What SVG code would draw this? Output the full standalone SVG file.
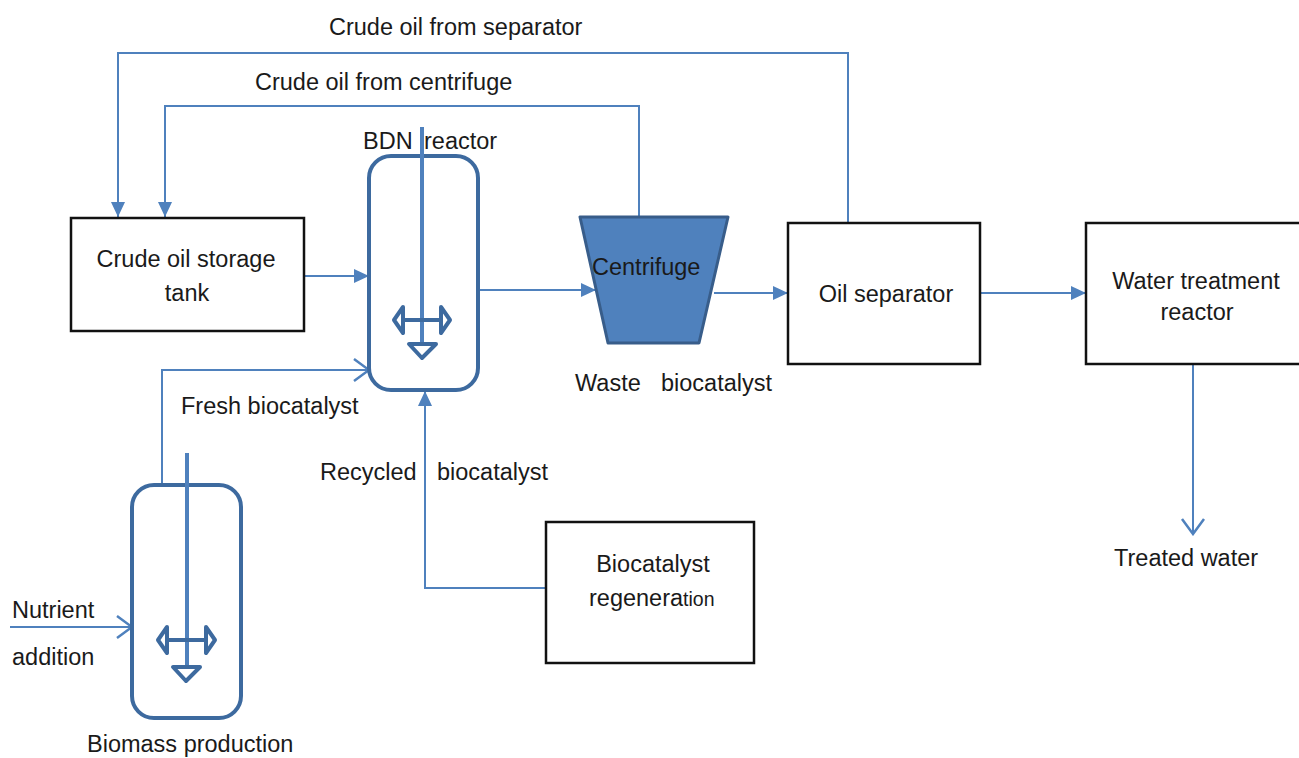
<svg xmlns="http://www.w3.org/2000/svg" width="1299" height="758" viewBox="0 0 1299 758">
<style>
text{font-family:"Liberation Sans",Arial,sans-serif;font-size:23.5px;fill:#1a1a1a}
.box{fill:#fff;stroke:#111;stroke-width:2.5}
.vessel{fill:#fff;stroke:#3d6a9f;stroke-width:4}
.shaft{stroke:#4f81bd;stroke-width:4;fill:none}
.agit{fill:none;stroke:#3d6a9f;stroke-width:4;stroke-linejoin:round}
.c{fill:none;stroke:#4f81bd;stroke-width:2}
</style>
<defs>
<marker id="fa" markerUnits="userSpaceOnUse" markerWidth="16" markerHeight="14" refX="15" refY="7" orient="auto"><path d="M0,0 L15,7 L0,14 Z" fill="#4f81bd"/></marker>
<marker id="oa" markerUnits="userSpaceOnUse" markerWidth="18" markerHeight="26" refX="16" refY="13" orient="auto"><path d="M1,2 L16,13 L1,24" fill="none" stroke="#4f81bd" stroke-width="2.5"/></marker>
</defs>
<rect width="1299" height="758" fill="#fff"/>
<g id="connectors">
<polyline class="c" points="848,223 848,53 118,53 118,217" marker-end="url(#fa)"/>
<polyline class="c" points="639,217 639,106 165,106 165,217" marker-end="url(#fa)"/>
<line class="c" x1="304" y1="276" x2="369" y2="276" marker-end="url(#fa)"/>
<line class="c" x1="478" y1="290" x2="596" y2="290" marker-end="url(#fa)"/>
<line class="c" x1="714" y1="293" x2="788" y2="293" marker-end="url(#fa)"/>
<line class="c" x1="980" y1="293" x2="1086" y2="293" marker-end="url(#fa)"/>
<line class="c" x1="1193" y1="364" x2="1193" y2="534" marker-end="url(#oa)"/>
<polyline class="c" points="162,485 162,370 369,370" marker-end="url(#oa)"/>
<polyline class="c" points="546,588 425,588 425,391" marker-end="url(#fa)"/>
<line class="c" x1="10" y1="627" x2="132" y2="627" marker-end="url(#oa)"/>
</g>
<g id="tank">
<rect class="box" x="71" y="218" width="233" height="113"/>
<text x="186" y="267" text-anchor="middle">Crude oil storage</text>
<text x="187" y="301" text-anchor="middle">tank</text>
</g>
<g id="bdn-reactor">
<rect class="vessel" x="369" y="156" width="109" height="234" rx="22"/>
<line class="shaft" x1="422" y1="127" x2="422" y2="345"/>
<line class="agit" x1="402" y1="320" x2="442" y2="320"/>
<path class="agit" d="M403,307 L394,320 L403,333 Z"/>
<path class="agit" d="M441,307 L450,320 L441,333 Z"/>
<path class="agit" d="M409,344 L436,344 L422,358 Z"/>
<text x="363" y="149">BDN</text>
<text x="424" y="149">reactor</text>
</g>
<g id="centrifuge">
<polygon points="580,217 728,217 699,343 608,343" fill="#4f81bd" stroke="#385d8a" stroke-width="3" stroke-linejoin="round"/>
<text x="592" y="275">Centrifuge</text>
<text x="575" y="391">Waste</text>
<text x="661" y="391">biocatalyst</text>
</g>
<g id="oil-separator">
<rect class="box" x="788" y="223" width="192" height="141"/>
<text x="886" y="302" text-anchor="middle">Oil separator</text>
</g>
<g id="water-treatment">
<rect class="box" x="1086" y="223" width="220" height="141"/>
<text x="1196" y="289" text-anchor="middle">Water treatment</text>
<text x="1197" y="320" text-anchor="middle">reactor</text>
<text x="1114" y="566">Treated water</text>
</g>
<g id="regeneration">
<rect class="box" x="546" y="522" width="208" height="141"/>
<text x="653" y="572" text-anchor="middle">Biocatalyst</text>
<text x="589" y="606">regenera<tspan font-size="19.5px">tion</tspan></text>
</g>
<g id="biomass-reactor">
<rect class="vessel" x="132" y="485" width="109" height="233" rx="22"/>
<line class="shaft" x1="187" y1="453" x2="187" y2="667"/>
<line class="agit" x1="166" y1="640" x2="207" y2="640"/>
<path class="agit" d="M167,627 L158,640 L167,653 Z"/>
<path class="agit" d="M206,627 L215,640 L206,653 Z"/>
<path class="agit" d="M173,667 L200,667 L186,681 Z"/>
<text x="87" y="752">Biomass production</text>
<text x="12" y="618">Nutrient</text>
<text x="12" y="665">addition</text>
</g>
<g id="labels">
<text x="329" y="35">Crude oil from separator</text>
<text x="255" y="90">Crude oil from centrifuge</text>
<text x="181" y="414">Fresh biocatalyst</text>
<text x="320" y="480">Recycled</text>
<text x="437" y="480">biocatalyst</text>
</g>
</svg>
